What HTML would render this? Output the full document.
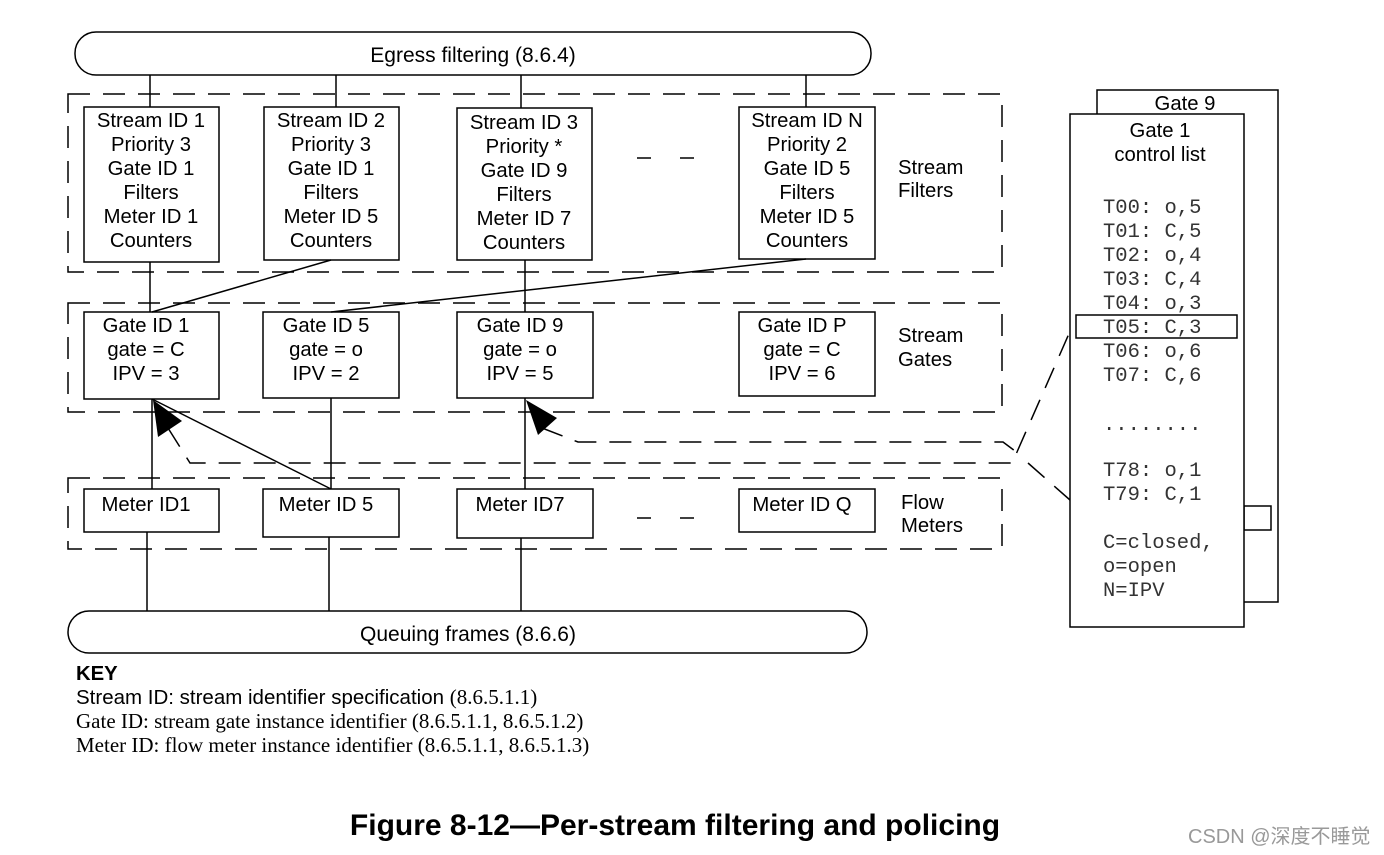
<!DOCTYPE html>
<html><head><meta charset="utf-8"><style>
html,body{margin:0;padding:0;background:#fff;}
svg{display:block;}
text{font-family:"Liberation Sans",sans-serif;font-size:20.3px;fill:#000;}
.m{font-family:"Liberation Mono",monospace;font-size:20.5px;fill:#333;}
.s{font-family:"Liberation Serif",serif;font-size:21px;}
</style></head><body>
<svg width="1384" height="855" viewBox="0 0 1384 855" xmlns="http://www.w3.org/2000/svg">
<g fill="none" stroke="#000" stroke-width="1.5">
<rect x="75" y="32" width="796" height="43" rx="21"/>
<rect x="68" y="611" width="799" height="42" rx="21"/>
<g stroke-dasharray="22 13">
<rect x="68" y="94" width="934" height="178"/>
<rect x="68" y="303" width="934" height="109"/>
<rect x="68" y="478" width="934" height="71"/>
</g>
<rect x="84" y="107" width="135" height="155"/>
<rect x="264" y="107" width="135" height="153"/>
<rect x="457" y="108" width="135" height="152"/>
<rect x="739" y="107" width="136" height="152"/>
<rect x="84" y="312" width="135" height="87"/>
<rect x="263" y="312" width="136" height="86"/>
<rect x="457" y="312" width="136" height="86"/>
<rect x="739" y="312" width="136" height="84"/>
<rect x="84" y="489" width="135" height="43"/>
<rect x="263" y="489" width="136" height="48"/>
<rect x="457" y="489" width="136" height="49"/>
<rect x="739" y="489" width="136" height="43"/>
<line x1="150" y1="75" x2="150" y2="107"/>
<line x1="336" y1="75" x2="336" y2="107"/>
<line x1="521" y1="75" x2="521" y2="108"/>
<line x1="806" y1="75" x2="806" y2="107"/>
<line x1="150" y1="262" x2="150" y2="312"/>
<line x1="331" y1="260" x2="152" y2="312"/>
<line x1="525" y1="260" x2="525" y2="312"/>
<line x1="806" y1="259" x2="331" y2="312"/>
<line x1="152" y1="399" x2="152" y2="489"/>
<line x1="152" y1="399" x2="331" y2="489"/>
<line x1="331" y1="398" x2="331" y2="489"/>
<line x1="525" y1="398" x2="525" y2="489"/>
<line x1="147" y1="532" x2="147" y2="611"/>
<line x1="329" y1="537" x2="329" y2="611"/>
<line x1="521" y1="538" x2="521" y2="611"/>
<line x1="637" y1="158" x2="651" y2="158"/><line x1="680" y1="158" x2="694" y2="158"/>
<line x1="637" y1="518" x2="651" y2="518"/><line x1="680" y1="518" x2="694" y2="518"/>
<g stroke-dasharray="22 13">
<polyline points="168,428 190,463 1013,463 1017,452"/>
<polyline points="542,428 578,442 1003,442 1015,451"/>
<line x1="1017" y1="452" x2="1075" y2="320"/>
<line x1="1028" y1="463" x2="1070" y2="500"/>
</g>
<rect x="1097" y="90" width="181" height="512" fill="#fff"/>
<rect x="1244" y="506" width="27" height="24"/>
<rect x="1070" y="114" width="174" height="513" fill="#fff"/>
<rect x="1076" y="315" width="161" height="23"/>
</g>
<polygon points="153,400 158,437 182,421" fill="#000"/>
<polygon points="526,400 538,435 557,418" fill="#000"/>
<g text-anchor="middle">
<text x="473" y="62" style="font-size:21px">Egress filtering (8.6.4)</text>
<text x="468" y="641" style="font-size:21px">Queuing frames (8.6.6)</text>
<text x="151" y="127">Stream ID 1</text><text x="151" y="151">Priority 3</text><text x="151" y="175">Gate ID 1</text><text x="151" y="199">Filters</text><text x="151" y="223">Meter ID 1</text><text x="151" y="247">Counters</text>
<text x="331" y="127">Stream ID 2</text><text x="331" y="151">Priority 3</text><text x="331" y="175">Gate ID 1</text><text x="331" y="199">Filters</text><text x="331" y="223">Meter ID 5</text><text x="331" y="247">Counters</text>
<text x="524" y="129">Stream ID 3</text><text x="524" y="153">Priority *</text><text x="524" y="177">Gate ID 9</text><text x="524" y="201">Filters</text><text x="524" y="225">Meter ID 7</text><text x="524" y="249">Counters</text>
<text x="807" y="127">Stream ID N</text><text x="807" y="151">Priority 2</text><text x="807" y="175">Gate ID 5</text><text x="807" y="199">Filters</text><text x="807" y="223">Meter ID 5</text><text x="807" y="247">Counters</text>
<text x="146" y="332">Gate ID 1</text><text x="146" y="356">gate = C</text><text x="146" y="380">IPV = 3</text>
<text x="326" y="332">Gate ID 5</text><text x="326" y="356">gate = o</text><text x="326" y="380">IPV = 2</text>
<text x="520" y="332">Gate ID 9</text><text x="520" y="356">gate = o</text><text x="520" y="380">IPV = 5</text>
<text x="802" y="332">Gate ID P</text><text x="802" y="356">gate = C</text><text x="802" y="380">IPV = 6</text>
<text x="146" y="511">Meter ID1</text>
<text x="326" y="511">Meter ID 5</text>
<text x="520" y="511">Meter ID7</text>
<text x="802" y="511">Meter ID Q</text>
<text x="1185" y="110">Gate 9</text>
<text x="1160" y="137">Gate 1</text>
<text x="1160" y="161">control list</text>
</g>
<text x="898" y="174">Stream</text><text x="898" y="197">Filters</text>
<text x="898" y="342">Stream</text><text x="898" y="366">Gates</text>
<text x="901" y="509">Flow</text><text x="901" y="532">Meters</text>
<text class="m" x="1103" y="213">T00: o,5</text>
<text class="m" x="1103" y="237">T01: C,5</text>
<text class="m" x="1103" y="261">T02: o,4</text>
<text class="m" x="1103" y="285">T03: C,4</text>
<text class="m" x="1103" y="309">T04: o,3</text>
<text class="m" x="1103" y="333">T05: C,3</text>
<text class="m" x="1103" y="357">T06: o,6</text>
<text class="m" x="1103" y="381">T07: C,6</text>
<text class="m" x="1103" y="430">........</text>
<text class="m" x="1103" y="476">T78: o,1</text>
<text class="m" x="1103" y="500">T79: C,1</text>
<text class="m" x="1103" y="548">C=closed,</text>
<text class="m" x="1103" y="572">o=open</text>
<text class="m" x="1103" y="596">N=IPV</text>
<text x="76" y="680" font-weight="bold">KEY</text>
<text x="76" y="704" style="font-size:20.5px">Stream ID: stream identifier specification <tspan class="s">(8.6.5.1.1)</tspan></text>
<text class="s" x="76" y="728">Gate ID: stream gate instance identifier (8.6.5.1.1, 8.6.5.1.2)</text>
<text class="s" x="76" y="752">Meter ID: flow meter instance identifier (8.6.5.1.1, 8.6.5.1.3)</text>
<text x="675" y="835" text-anchor="middle" font-weight="bold" style="font-size:30px">Figure 8-12—Per-stream filtering and policing</text>
<text x="1188" y="843" style="font-family:'Liberation Sans','Noto Sans CJK SC',sans-serif;font-size:20px;fill:#999">CSDN @深度不睡觉</text>
</svg>
</body></html>
